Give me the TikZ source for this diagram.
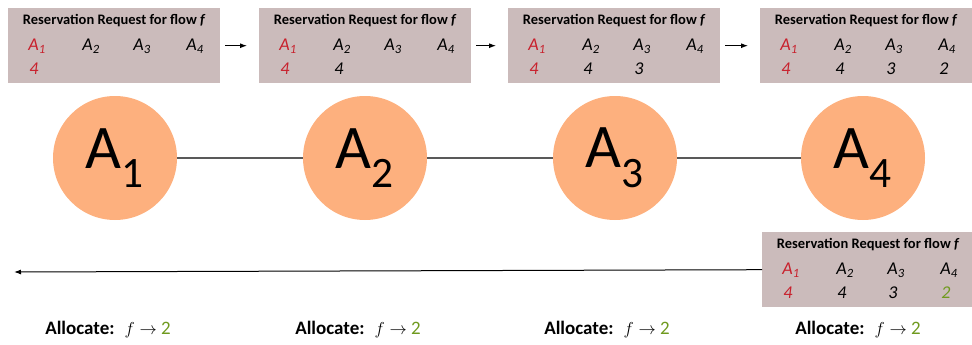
\documentclass[tikz,border=0pt]{standalone}
\usepackage{fontspec}
\setmainfont{Carlito}
\usetikzlibrary{positioning,calc,arrows.meta}

\definecolor{boxgray}{HTML}{CBBBBB}
\definecolor{nodepeach}{HTML}{FDB07E}
\definecolor{reqred}{HTML}{C8202C}
\definecolor{allocgreen}{HTML}{6F9A1E}

\tikzset{
  reqbox/.style={draw=none, fill=boxgray, minimum width=212, minimum height=75, inner sep=0, anchor=north west},
  reqhead/.style={font=\fontsize{14.5}{16}\selectfont\bfseries},
  reqcell/.style={font=\fontsize{18}{20}\selectfont\itshape},
  router/.style={circle, fill=nodepeach, minimum size=124, inner sep=0, font=\fontsize{62}{64}\selectfont},
  link/.style={draw=black!65, line width=1.3},
  msg/.style={-{Latex[length=7pt,width=5pt]}, line width=1},
  alloc/.style={font=\fontsize{19}{21}\selectfont}
}

% request box: name, top-left corner, values for A2..A4
\newcommand{\reqbox}[5]{
  \node[reqbox] (#1) at #2 {};
  \node[reqhead] (#1h) at ($(#1.north)+(0,13)$) {Reservation Request for flow \textit{f}};
  \node[reqcell, reqred] (#1a1) at ($(#1.north west)+(29,38)$) {A\textsubscript{1}};
  \node[reqcell] (#1a2) at ($(#1.north west)+(83,38)$) {A\textsubscript{2}};
  \node[reqcell] (#1a3) at ($(#1.north west)+(134,38)$) {A\textsubscript{3}};
  \node[reqcell] (#1a4) at ($(#1.north west)+(187,38)$) {A\textsubscript{4}};
  \node[reqcell, reqred] (#1v1) at ($(#1.north west)+(26,61)$) {4};
  \node[reqcell] (#1v2) at ($(#1.north west)+(80,61)$) {#3};
  \node[reqcell] (#1v3) at ($(#1.north west)+(131,61)$) {#4};
  \node[reqcell] (#1v4) at ($(#1.north west)+(184,61)$) {#5};
}

\begin{document}
\begin{tikzpicture}[x=1pt, y=-1pt]
    \useasboundingbox (0,0) rectangle (972,345);

    % Routers
    \node[router] (r1) at (115,158) {A\textsubscript{1}};
    \node[router] (r2) at (365,158) {A\textsubscript{2}};
    \node[router] (r3) at (615,158) {A\textsubscript{3}};
    \node[router] (r4) at (863,158) {A\textsubscript{4}};
    \draw[link] (r1) -- (r2);
    \draw[link] (r2) -- (r3);
    \draw[link] (r3) -- (r4);

    % Forward requests
    \reqbox{q1}{(8,8)}{}{}{}
    \reqbox{q2}{(259,8)}{4}{}{}
    \reqbox{q3}{(508,8)}{4}{3}{}
    \reqbox{q4}{(760,8)}{4}{3}{2}
    \draw[msg, shorten <=5, shorten >=12] (q1.east) -- (q2.west);
    \draw[msg, shorten <=5, shorten >=12] (q2.east) -- (q3.west);
    \draw[msg, shorten <=5, shorten >=12] (q3.east) -- (q4.west);

    % Reply back to the source
    \reqbox{rep}{(762,232)}{4}{3}{\textcolor{allocgreen}{2}}
    \coordinate (src) at (14,272);
    \draw[msg] (rep.west) -- (src);

    % Allocation
    \node[alloc] (al1) at (108,330) {\textbf{Allocate:}~ $f \rightarrow$ \textcolor{allocgreen}{2}};
    \node[alloc] (al2) at (358,330) {\textbf{Allocate:}~ $f \rightarrow$ \textcolor{allocgreen}{2}};
    \node[alloc] (al3) at (607,330) {\textbf{Allocate:}~ $f \rightarrow$ \textcolor{allocgreen}{2}};
    \node[alloc] (al4) at (858,330) {\textbf{Allocate:}~ $f \rightarrow$ \textcolor{allocgreen}{2}};
\end{tikzpicture}
\end{document}
